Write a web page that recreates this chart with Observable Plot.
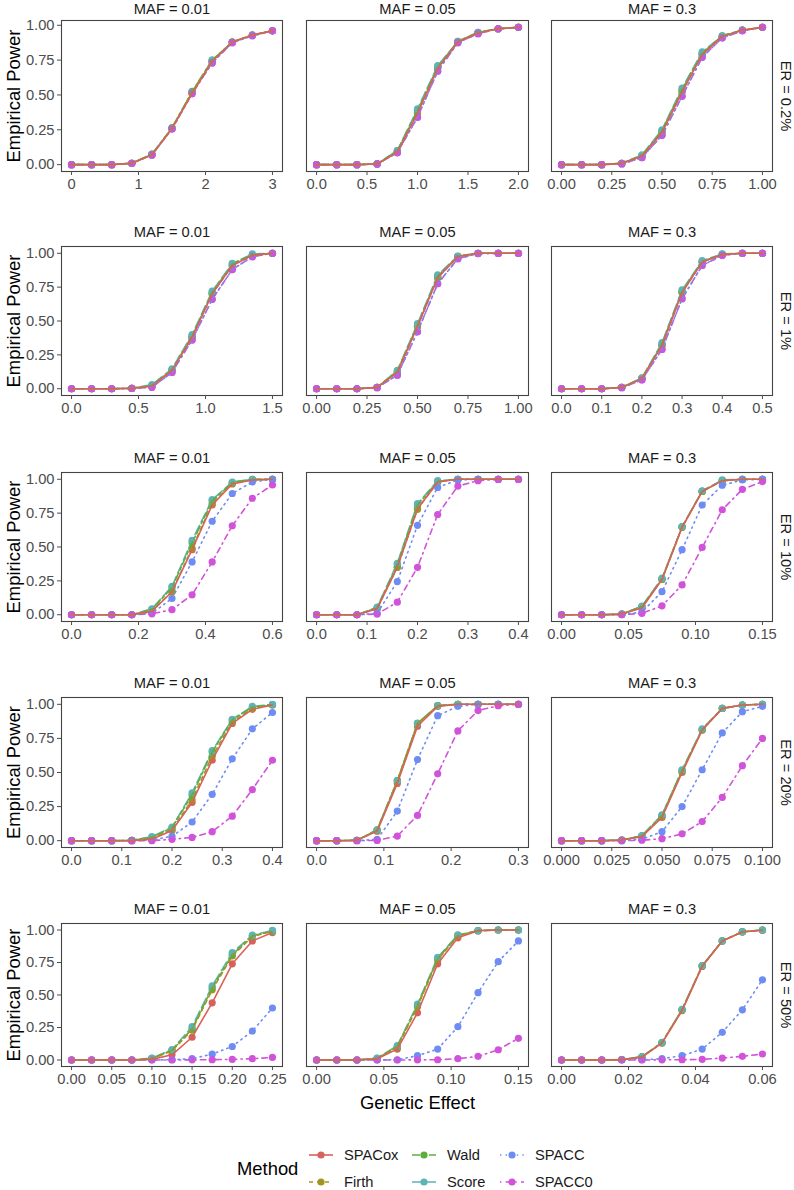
<!DOCTYPE html>
<html><head><meta charset="utf-8">
<script src="https://cdn.jsdelivr.net/npm/d3@7"></script>
<script src="https://cdn.jsdelivr.net/npm/@observablehq/plot@0.6"></script>
<style>
body{margin:0;background:#fff;}
#chart{position:relative;width:794px;height:1190px;overflow:hidden;background:#fff;font-family:"Liberation Sans",Arial,sans-serif;}
#chart svg{position:absolute;overflow:visible;}
</style></head><body><div id="chart"></div>
<script>
// ---------- data ----------
const methods = ["SPACox","Firth","Wald","Score","SPACC","SPACC0"];
const methodColors = ["#D7625B","#A2951F","#5DAE3C","#5DB3B6","#6E8CF4","#D153DA"];
const methodDashes = [null,"4,4","8,3,3,3","10,4","1.4,4.2","1.4,4.2,5.6,4.2"];
const erLabels = ["ER = 0.2%","ER = 1%","ER = 10%","ER = 20%","ER = 50%"];
const mafLabels = ["MAF = 0.01","MAF = 0.05","MAF = 0.3"];
const yLabel = "Empirical Power";
const xLabel = "Genetic Effect";
const legendTitle = "Method";
const yTicks = [0,0.25,0.5,0.75,1];

const xTicks = [
  [[0,1,2,3],[0,0.5,1,1.5,2],[0,0.25,0.5,0.75,1]],
  [[0,0.5,1,1.5],[0,0.25,0.5,0.75,1],[0,0.1,0.2,0.3,0.4,0.5]],
  [[0,0.2,0.4,0.6],[0,0.1,0.2,0.3,0.4],[0,0.05,0.1,0.15]],
  [[0,0.1,0.2,0.3,0.4],[0,0.1,0.2,0.3],[0,0.025,0.05,0.075,0.1]],
  [[0,0.05,0.1,0.15,0.2,0.25],[0,0.05,0.1,0.15],[0,0.02,0.04,0.06]]
];
const xDecimals = [[0,1,2],[1,2,1],[1,1,2],[1,1,3],[2,2,2]];

// ER = 0.2%
const er02_maf001 = {
  x:      [0,0.3,0.6,0.9,1.2,1.5,1.8,2.1,2.4,2.7,3.0],
  SPACox: [0,0,0,0.01,0.07,0.26,0.51,0.74,0.88,0.93,0.96],
  Firth:  [0,0,0,0.01,0.07,0.26,0.52,0.745,0.88,0.93,0.96],
  Wald:   [0,0,0,0.01,0.075,0.265,0.525,0.75,0.88,0.93,0.96],
  Score:  [0,0,0,0.01,0.075,0.26,0.52,0.75,0.88,0.93,0.96],
  SPACC:  [0,0,0,0.01,0.07,0.255,0.51,0.73,0.875,0.925,0.96],
  SPACC0: [0,0,0,0.01,0.07,0.255,0.51,0.73,0.875,0.925,0.96]
};
const er02_maf005 = {
  x:      [0,0.2,0.4,0.6,0.8,1.0,1.2,1.4,1.6,1.8,2.0],
  SPACox: [0,0,0,0.005,0.09,0.37,0.69,0.88,0.945,0.975,0.985],
  Firth:  [0,0,0,0.005,0.09,0.37,0.69,0.88,0.945,0.975,0.985],
  Wald:   [0,0,0,0.005,0.10,0.39,0.70,0.885,0.95,0.975,0.985],
  Score:  [0,0,0,0.005,0.10,0.40,0.71,0.885,0.95,0.975,0.985],
  SPACC:  [0,0,0,0.005,0.085,0.34,0.67,0.875,0.94,0.975,0.985],
  SPACC0: [0,0,0,0.005,0.085,0.34,0.67,0.875,0.94,0.975,0.985]
};
const er02_maf03 = {
  x:      [0,0.1,0.2,0.3,0.4,0.5,0.6,0.7,0.8,0.9,1.0],
  SPACox: [0,0,0,0.01,0.06,0.23,0.52,0.79,0.92,0.965,0.985],
  Firth:  [0,0,0,0.01,0.06,0.23,0.53,0.79,0.92,0.965,0.985],
  Wald:   [0,0,0,0.01,0.065,0.245,0.54,0.80,0.925,0.965,0.985],
  Score:  [0,0,0,0.01,0.07,0.25,0.55,0.81,0.925,0.965,0.985],
  SPACC:  [0,0,0,0.005,0.05,0.21,0.49,0.77,0.91,0.96,0.985],
  SPACC0: [0,0,0,0.005,0.05,0.21,0.49,0.77,0.91,0.96,0.985]
};
// ER = 1%
const er1_maf001 = {
  x:      [0,0.15,0.3,0.45,0.6,0.75,0.9,1.05,1.2,1.35,1.5],
  SPACox: [0,0,0,0.003,0.02,0.135,0.38,0.70,0.91,0.985,1.0],
  Firth:  [0,0,0,0.003,0.02,0.135,0.38,0.70,0.91,0.985,1.0],
  Wald:   [0,0,0,0.003,0.025,0.14,0.39,0.71,0.92,0.99,1.0],
  Score:  [0,0,0,0.003,0.03,0.147,0.40,0.72,0.925,0.995,1.0],
  SPACC:  [0,0,0,0.002,0.01,0.12,0.36,0.66,0.88,0.975,1.0],
  SPACC0: [0,0,0,0.002,0.01,0.12,0.36,0.66,0.88,0.975,1.0]
};
const er1_maf005 = {
  x:      [0,0.1,0.2,0.3,0.4,0.5,0.6,0.7,0.8,0.9,1.0],
  SPACox: [0,0,0,0.01,0.12,0.46,0.82,0.975,1,1,1],
  Firth:  [0,0,0,0.01,0.12,0.46,0.82,0.975,1,1,1],
  Wald:   [0,0,0,0.01,0.13,0.47,0.83,0.978,1,1,1],
  Score:  [0,0,0,0.01,0.135,0.48,0.84,0.98,1,1,1],
  SPACC:  [0,0,0,0.008,0.10,0.42,0.775,0.96,0.998,1,1],
  SPACC0: [0,0,0,0.008,0.10,0.42,0.775,0.96,0.998,1,1]
};
const er1_maf03 = {
  x:      [0,0.05,0.1,0.15,0.2,0.25,0.3,0.35,0.4,0.45,0.5],
  SPACox: [0,0,0,0.01,0.075,0.32,0.71,0.935,0.99,1,1],
  Firth:  [0,0,0,0.01,0.075,0.32,0.71,0.935,0.99,1,1],
  Wald:   [0,0,0,0.01,0.078,0.33,0.72,0.94,0.993,1,1],
  Score:  [0,0,0,0.01,0.08,0.34,0.73,0.945,0.995,1,1],
  SPACC:  [0,0,0,0.008,0.065,0.29,0.665,0.91,0.985,1,1],
  SPACC0: [0,0,0,0.008,0.065,0.29,0.665,0.91,0.985,1,1]
};
// ER = 10%
const er10_maf001 = {
  x:      [0,0.06,0.12,0.18,0.24,0.30,0.36,0.42,0.48,0.54,0.60],
  SPACox: [0,0,0,0,0.025,0.17,0.48,0.81,0.965,0.995,1],
  Firth:  [0,0,0,0,0.03,0.17,0.49,0.82,0.97,0.995,1],
  Wald:   [0,0,0,0,0.04,0.20,0.53,0.84,0.975,1,1],
  Score:  [0,0,0,0,0.044,0.21,0.55,0.85,0.98,1,1],
  SPACC:  [0,0,0,0,0.01,0.12,0.39,0.69,0.895,0.98,1],
  SPACC0: [0,0,0,0,0.007,0.037,0.147,0.39,0.657,0.86,0.958]
};
const er10_maf005 = {
  x:      [0,0.04,0.08,0.12,0.16,0.20,0.24,0.28,0.32,0.36,0.40],
  SPACox: [0,0,0,0.045,0.35,0.78,0.98,1,1,1,1],
  Firth:  [0,0,0,0.045,0.35,0.78,0.98,1,1,1,1],
  Wald:   [0,0,0,0.05,0.37,0.81,0.985,1,1,1,1],
  Score:  [0,0,0,0.056,0.38,0.82,0.99,1,1,1,1],
  SPACC:  [0,0,0,0.01,0.245,0.66,0.94,0.995,1,1,1],
  SPACC0: [0,0,0,0.005,0.093,0.35,0.74,0.95,0.99,1,1]
};
const er10_maf03 = {
  x:      [0,0.015,0.03,0.045,0.06,0.075,0.09,0.105,0.12,0.135,0.15],
  SPACox: [0,0,0,0.005,0.05,0.26,0.645,0.91,0.99,1,1],
  Firth:  [0,0,0,0.005,0.055,0.26,0.645,0.91,0.99,1,1],
  Wald:   [0,0,0,0.005,0.06,0.265,0.65,0.91,0.99,1,1],
  Score:  [0,0,0,0.005,0.064,0.27,0.65,0.915,0.995,1,1],
  SPACC:  [0,0,0,0,0.02,0.17,0.48,0.81,0.956,0.995,1],
  SPACC0: [0,0,0,0,0.01,0.066,0.22,0.497,0.775,0.926,0.983]
};
// ER = 20%
const er20_maf001 = {
  x:      [0,0.04,0.08,0.12,0.16,0.20,0.24,0.28,0.32,0.36,0.40],
  SPACox: [0,0,0,0,0.01,0.075,0.28,0.59,0.86,0.963,0.995],
  Firth:  [0,0,0,0.002,0.02,0.08,0.30,0.62,0.87,0.97,0.995],
  Wald:   [0,0,0,0.003,0.025,0.095,0.335,0.65,0.885,0.98,0.998],
  Score:  [0,0,0,0.003,0.03,0.10,0.35,0.66,0.89,0.985,1],
  SPACC:  [0,0,0,0,0.005,0.032,0.137,0.34,0.60,0.82,0.94],
  SPACC0: [0,0,0,0,0,0.01,0.024,0.066,0.18,0.375,0.59]
};
const er20_maf005 = {
  x:      [0,0.03,0.06,0.09,0.12,0.15,0.18,0.21,0.24,0.27,0.30],
  SPACox: [0,0,0.003,0.07,0.42,0.84,0.985,1,1,1,1],
  Firth:  [0,0,0.003,0.075,0.44,0.86,0.99,1,1,1,1],
  Wald:   [0,0,0.003,0.08,0.44,0.86,0.99,1,1,1,1],
  Score:  [0,0,0.003,0.08,0.44,0.86,0.99,1,1,1,1],
  SPACC:  [0,0,0,0.01,0.217,0.595,0.917,0.985,1,1,1],
  SPACC0: [0,0,0,0.002,0.034,0.185,0.49,0.805,0.954,0.99,1]
};
const er20_maf03 = {
  x:      [0,0.01,0.02,0.03,0.04,0.05,0.06,0.07,0.08,0.09,0.10],
  SPACox: [0,0,0,0.005,0.03,0.17,0.50,0.81,0.97,0.995,1],
  Firth:  [0,0,0,0.005,0.033,0.18,0.51,0.815,0.97,0.995,1],
  Wald:   [0,0,0,0.005,0.035,0.185,0.515,0.815,0.97,0.995,1],
  Score:  [0,0,0,0.005,0.037,0.19,0.52,0.82,0.97,0.995,1],
  SPACC:  [0,0,0,0,0.01,0.066,0.25,0.52,0.79,0.946,0.985],
  SPACC0: [0,0,0,0,0.003,0.015,0.05,0.14,0.317,0.55,0.75]
};
// ER = 50%
const er50_maf001 = {
  x:      [0,0.025,0.05,0.075,0.10,0.125,0.15,0.175,0.20,0.225,0.25],
  SPACox: [0,0,0,0,0.005,0.04,0.175,0.44,0.74,0.916,0.98],
  Firth:  [0,0,0,0,0.01,0.07,0.23,0.54,0.80,0.95,0.99],
  Wald:   [0,0,0,0,0.012,0.075,0.24,0.555,0.81,0.955,0.99],
  Score:  [0,0,0,0,0.015,0.08,0.256,0.57,0.827,0.96,0.997],
  SPACC:  [0,0,0,0,0,0.002,0.01,0.045,0.104,0.223,0.40],
  SPACC0: [0,0,0,0,0,0,0.001,0.002,0.005,0.01,0.02]
};
const er50_maf005 = {
  x:      [0,0.015,0.03,0.045,0.06,0.075,0.09,0.105,0.12,0.135,0.15],
  SPACox: [0,0,0,0.01,0.084,0.363,0.74,0.94,0.995,1,1],
  Firth:  [0,0,0,0.01,0.10,0.41,0.77,0.955,0.995,1,1],
  Wald:   [0,0,0,0.012,0.105,0.42,0.78,0.958,0.995,1,1],
  Score:  [0,0,0,0.015,0.11,0.43,0.79,0.962,0.995,1,1],
  SPACC:  [0,0,0,0,0.002,0.033,0.084,0.256,0.518,0.756,0.916],
  SPACC0: [0,0,0,0,0,0.001,0.002,0.01,0.028,0.079,0.167]
};
const er50_maf03 = {
  x:      [0,0.006,0.012,0.018,0.024,0.03,0.036,0.042,0.048,0.054,0.06],
  SPACox: [0,0,0,0.003,0.022,0.13,0.38,0.72,0.915,0.985,0.998],
  Firth:  [0,0,0,0.003,0.024,0.133,0.385,0.724,0.916,0.986,1],
  Wald:   [0,0,0,0.003,0.025,0.134,0.388,0.725,0.916,0.986,1],
  Score:  [0,0,0,0.003,0.025,0.135,0.39,0.726,0.916,0.987,1],
  SPACC:  [0,0,0,0,0.002,0.01,0.033,0.084,0.213,0.386,0.617],
  SPACC0: [0,0,0,0,0,0.001,0.002,0.005,0.015,0.028,0.046]
};

const panels = [
  [er02_maf001, er02_maf005, er02_maf03],
  [er1_maf001, er1_maf005, er1_maf03],
  [er10_maf001, er10_maf005, er10_maf03],
  [er20_maf001, er20_maf005, er20_maf03],
  [er50_maf001, er50_maf005, er50_maf03]
];

// ---------- layout ----------
const panelLeft = [61, 306, 551];
const panelWidth = [221, 222, 221];
const panelTop = [20, 246, 472, 697, 923];
const panelHeight = [151, 149, 149, 150, 143];
const FONT = '"Liberation Sans", Arial, sans-serif';
const SMALL = 14.7, BIG = 18.4;

const chart = document.getElementById("chart");

function tidy(p) {
  const out = [];
  methods.forEach(m => p.x.forEach((x, i) => out.push({method: m, x, y: p[m][i]})));
  return out;
}

panels.forEach((row, r) => {
  const rowMax = d3.max(row.flatMap(p => methods.flatMap(m => p[m])));
  const rowMin = 0;
  const yDom = [rowMin - 0.05 * (rowMax - rowMin), rowMax + 0.05 * (rowMax - rowMin)];
  row.forEach((p, c) => {
    const data = tidy(p);
    const xmin = d3.min(p.x), xmax = d3.max(p.x), xr = xmax - xmin;
    const mL = c === 0 ? 61 : 14;
    const mR = c === 2 ? 25 : 14;
    const mT = 26;
    const mB = (r === 4 && c === 1) ? 60 : 32;
    const marks = [];
    marks.push(Plot.dot(data, {x: "x", y: "y", fill: "method", r: 3.6}));
    for (let i = methods.length - 1; i >= 0; i--) {
      const m = methods[i];
      marks.push(Plot.line(data.filter(d => d.method === m), {
        x: "x", y: "y", stroke: methodColors[i], strokeWidth: 1.6,
        strokeDasharray: methodDashes[i] || undefined
      }));
    }
    marks.push(Plot.frame({stroke: "#444", strokeWidth: 1.1}));
    marks.push(Plot.axisX({ticks: xTicks[r][c], tickFormat: d3.format(`.${xDecimals[r][c]}f`),
      tickSize: 4, tickPadding: 3, label: null, fontSize: SMALL}));
    if (c === 0) {
      marks.push(Plot.axisY({ticks: yTicks, tickFormat: d3.format(".2f"),
        tickSize: 4, tickPadding: 3, label: null, fontSize: SMALL}));
      marks.push(Plot.text([yLabel], {text: d => d, frameAnchor: "left", dx: -47, rotate: -90,
        textAnchor: "middle", lineAnchor: "middle", fontSize: BIG, fill: "#000"}));
    }
    marks.push(Plot.text([mafLabels[c]], {text: d => d, frameAnchor: "top", dy: r === 0 ? -11 : -14,
      textAnchor: "middle", lineAnchor: "middle", fontSize: SMALL, fill: "#1A1A1A"}));
    if (c === 2) {
      marks.push(Plot.text([erLabels[r]], {text: d => d, frameAnchor: "right", dx: 13, rotate: 90,
        textAnchor: "middle", lineAnchor: "middle", fontSize: SMALL, fill: "#1A1A1A"}));
    }
    if (r === 4 && c === 1) {
      marks.push(Plot.text([xLabel], {text: d => d, frameAnchor: "bottom", dy: 37,
        textAnchor: "middle", lineAnchor: "middle", fontSize: BIG, fill: "#000"}));
    }
    const svg = Plot.plot({
      width: mL + panelWidth[c] + mR,
      height: mT + panelHeight[r] + mB,
      marginLeft: mL, marginRight: mR, marginTop: mT, marginBottom: mB,
      x: {domain: [xmin - 0.05 * xr, xmax + 0.05 * xr], label: null},
      y: {domain: yDom, label: null, axis: c === 0 ? undefined : null},
      color: {domain: methods, range: methodColors},
      style: {fontFamily: FONT, fontSize: SMALL + "px", color: "#4D4D4D", background: "transparent", overflow: "visible"},
      marks
    });
    svg.style.left = (panelLeft[c] - mL) + "px";
    svg.style.top = (panelTop[r] - mT) + "px";
    chart.appendChild(svg);
  });
});

// ---------- legend ----------
const legTop = 1125;
const leg = d3.select(chart).append("svg")
  .attr("width", 794).attr("height", 65)
  .style("left", "0px").style("top", legTop + "px")
  .attr("font-family", FONT);
leg.append("text").attr("x", 237).attr("y", 1169 - legTop).attr("dy", "0.35em")
  .attr("font-size", BIG).attr("fill", "#000").text(legendTitle);
const keyX = [309, 412, 500];
const keyY = [1155, 1182];
methods.forEach((m, i) => {
  const col = Math.floor(i / 2), rw = i % 2;
  const x0 = keyX[col], y = keyY[rw] - legTop;
  const g = leg.append("g");
  g.append("line").attr("x1", x0).attr("x2", x0 + 24).attr("y1", y).attr("y2", y)
    .attr("stroke", methodColors[i]).attr("stroke-width", 1.6)
    .attr("stroke-dasharray", methodDashes[i] || null);
  g.append("circle").attr("cx", x0 + 12).attr("cy", y).attr("r", 3.6).attr("fill", methodColors[i]);
  g.append("text").attr("x", x0 + 35).attr("y", y).attr("dy", "0.35em")
    .attr("font-size", SMALL).attr("fill", "#1A1A1A").text(m);
});
</script></body></html>
